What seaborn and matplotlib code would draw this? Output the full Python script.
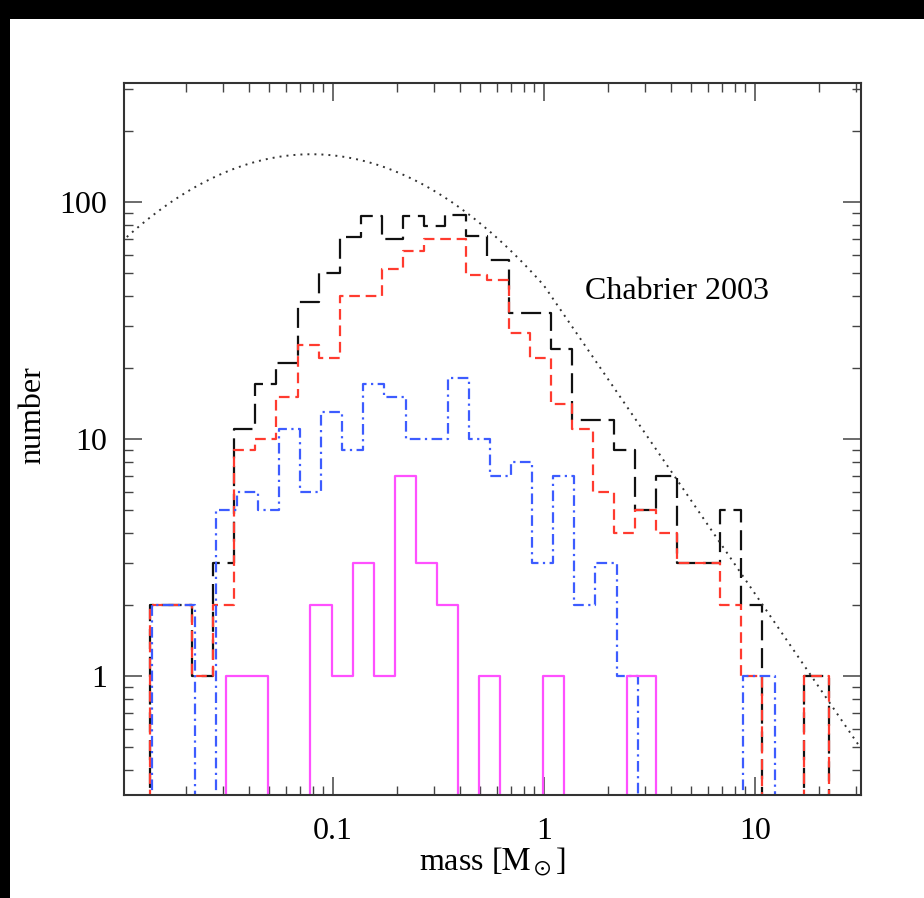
import matplotlib
matplotlib.use("Agg")
import matplotlib.pyplot as plt
import numpy as np
import pandas as pd
import seaborn as sns
from matplotlib.patches import Rectangle
from matplotlib.ticker import FixedLocator, FuncFormatter, LogLocator, NullFormatter

# histogram outlines: bins of 0.1 dex in log10(mass)
# start = lower edge of first bin, end = upper edge of last bin (log10 M_sun)
BIN_DEX = 0.1

black_start, black_end = -1.868, 1.352
black_counts = [2, 2, 1, 3, 11, 17, 21, 38, 50, 71, 87, 70, 87, 79, 88, 72,
                57, 34, 34, 24, 12, 12, 9, 5, 7, 3, 3, 5, 2, 0, 0, 1]

red_start, red_end = -1.868, 1.352
red_counts = [2, 2, 1, 2, 9, 10, 15, 25, 22, 40, 40, 52, 62, 70, 70, 49,
              47, 28, 22, 14, 11, 6, 4, 5, 4, 3, 3, 2, 1, 0, 0, 1]

blue_start, blue_end = -1.856, 1.095
blue_counts = [2, 2, 0, 5, 6, 5, 11, 6, 13, 9, 17, 15, 10, 10, 18, 10,
               7, 8, 3, 7, 2, 3, 1, 0, 0, 0, 0, 0, 1]

magenta_start, magenta_end = -1.507, 0.531
magenta_counts = [1, 1, 0, 0, 2, 1, 3, 1, 7, 3, 2, 0, 1, 0, 0, 1, 0, 0, 0, 1]

# Chabrier (2003) IMF, scaled to the sample
chab_peak = 159.0
chab_mc = 0.079
chab_sigma = 0.69
chab_slope = -1.3

xticks = [0.1, 1, 10]
yticks = [1, 10, 100]


def step_frame(start, end, counts, floor=0.05):
    lo = [start + BIN_DEX * k for k in range(len(counts))]
    edges = np.array([lo[0]] + lo + [end])
    vals = np.array([floor] + list(counts) + [floor], dtype=float)
    vals[vals <= 0] = floor
    return pd.DataFrame({"mass": 10 ** edges, "number": vals})


def chabrier(m):
    lognorm = chab_peak * np.exp(-(np.log10(m) - np.log10(chab_mc)) ** 2 / (2 * chab_sigma ** 2))
    at_one = chab_peak * np.exp(-np.log10(chab_mc) ** 2 / (2 * chab_sigma ** 2))
    return np.where(m <= 1, lognorm, at_one * m ** chab_slope)


sns.set_theme(style="ticks")
plt.rcParams["font.family"] = ["Liberation Serif", "DejaVu Serif"]
plt.rcParams["mathtext.fontset"] = "stix"
plt.rcParams["text.color"] = "black"
plt.rcParams["axes.labelcolor"] = "black"
plt.rcParams["xtick.labelcolor"] = "black"
plt.rcParams["ytick.labelcolor"] = "black"

fig = plt.figure(figsize=(9.24, 8.98), dpi=100)
ax = fig.add_axes([124 / 924, 103 / 898, 737 / 924, 712 / 898])
ax.set_xscale("log")
ax.set_yscale("log")

series = [
    (black_start, black_end, black_counts, "#111111", (0, (9, 3.5))),
    (red_start, red_end, red_counts, "#ff3b2f", (0, (4.8, 2.6))),
    (blue_start, blue_end, blue_counts, "#3d5cff", (0, (4.8, 2, 1, 2))),
    (magenta_start, magenta_end, magenta_counts, "#ff50ff", "-"),
]
for start, end, counts, color, ls in series:
    sns.lineplot(data=step_frame(start, end, counts), x="mass", y="number",
                 estimator=None, sort=False, drawstyle="steps-post",
                 color=color, lw=1.6, ax=ax)
    ax.lines[-1].set_linestyle(ls)

m = np.logspace(-2.05, 1.55, 500)
chab = pd.DataFrame({"mass": m, "number": chabrier(m)})
sns.lineplot(data=chab, x="mass", y="number", estimator=None, sort=False,
             color="#333333", lw=1.4, ax=ax)
ax.lines[-1].set_linestyle((0, (1, 2.6)))

ax.set_xlim(10 ** -1.9905, 10 ** 1.5024)
ax.set_ylim(10 ** -0.502, 10 ** 2.502)

for axis, ticks in ((ax.xaxis, xticks), (ax.yaxis, yticks)):
    axis.set_major_locator(FixedLocator(ticks))
    axis.set_minor_locator(LogLocator(base=10, subs=range(2, 10), numticks=20))
    axis.set_major_formatter(FuncFormatter(lambda v, p: f"{v:g}"))
    axis.set_minor_formatter(NullFormatter())

ax.tick_params(which="both", direction="in", top=True, right=True,
               color="#444444", labelsize=23, labelcolor="black")
ax.tick_params(which="major", length=13, width=1.1)
ax.tick_params(which="minor", length=6.5, width=1.0)
ax.tick_params(axis="x", pad=16)
ax.tick_params(axis="y", pad=12)
for sp in ax.spines.values():
    sp.set_linewidth(1.5)
    sp.set_color("#333333")

ax.text(0.6255, 0.6966, "Chabrier 2003", transform=ax.transAxes,
        fontsize=23, va="baseline", ha="left", color="black")

ax.set_xlabel(r"mass [$\mathrm{M}_\odot$]", fontsize=23, color="black")
ax.xaxis.label.set_va("center")
ax.xaxis.set_label_coords(0.5, (795 - 862) / 712)
ax.set_ylabel("number", fontsize=23, color="black")
ax.yaxis.label.set_va("center")
ax.yaxis.set_label_coords((33 - 124) / 737, (795 - 415) / 712)

# black frame strips at the top and left edge of the image
fig.add_artist(Rectangle((0, 1 - 19 / 898), 1, 19 / 898, transform=fig.transFigure,
                         color="black", lw=0))
fig.add_artist(Rectangle((0, 0), 10 / 924, 1, transform=fig.transFigure,
                         color="black", lw=0))

fig.savefig("out.png", dpi=100)
plt.close(fig)
